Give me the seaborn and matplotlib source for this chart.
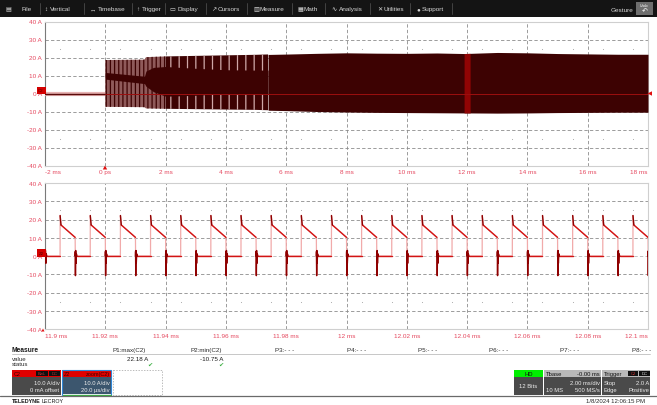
import numpy as np
import pandas as pd
import matplotlib
matplotlib.use("Agg")
import matplotlib.pyplot as plt
from matplotlib.patches import Rectangle, Polygon
import seaborn as sns

W, H = 657, 406

# ---------------- C2: full record, 2 ms/div, trigger at 0 ----------------
top_ticks_ms = [-2, 0, 2, 4, 6, 8, 10, 12, 14, 16, 18]
top_tick_labels = ["-2 ms", "0 ps", "2 ms", "4 ms", "6 ms", "8 ms",
                   "10 ms", "12 ms", "14 ms", "16 ms", "18 ms"]
amp_ticks_a = [40, 30, 20, 10, 0, -10, -20, -30, -40]
amp_tick_labels = ["40 A", "30 A", "20 A", "10 A", "0 A",
                   "-10 A", "-20 A", "-30 A", "-40 A"]

pre_t_ms = [-2.0, 0.0]
pre_i_a = [0.0, 0.0]

# switching envelope of the current after the trigger
env_t_ms = [0.0, 1.3, 1.35, 2.0, 3.0, 4.0, 5.0, 5.4, 6.0, 7.0, 8.0, 9.0,
            10.0, 11.0, 11.9, 12.1, 13.0, 14.0, 15.0, 16.0, 17.0, 18.0]
env_hi_a = [18.6, 18.8, 20.2, 20.6, 20.9, 21.2, 21.5, 21.7, 21.9, 22.3, 22.6,
            22.4, 22.3, 22.5, 22.2, 22.3, 22.8, 22.6, 22.2, 22.0, 21.8, 21.8]
env_lo_a = [-7.4, -7.6, -8.3, -8.5, -8.7, -8.9, -9.1, -9.3, -9.5, -10.0, -10.3,
            -10.5, -10.6, -10.7, -10.8, -10.8, -10.9, -10.8, -10.6, -10.5, -10.4, -10.4]

# dense core of the trace during start-up
core_t_ms = [0.0, 1.3, 1.35, 1.6, 2.0, 3.0, 4.0, 5.0, 5.4]
core_hi_a = [11.7, 9.6, 12.5, 14.5, 15.0, 14.0, 13.2, 13.0, 13.0]
core_lo_a = [8.0, 5.5, 4.0, 1.0, -1.5, -1.0, 0.0, 0.0, 0.0]

zoom_span_ms = [11.9, 12.1]

# ---------------- Z2: zoom of C2, 20 us/div ----------------
bot_ticks_ms = [11.90, 11.92, 11.94, 11.96, 11.98, 12.00,
                12.02, 12.04, 12.06, 12.08, 12.10]
bot_tick_labels = ["11.9 ms", "11.92 ms", "11.94 ms", "11.96 ms", "11.98 ms",
                   "12 ms", "12.02 ms", "12.04 ms", "12.06 ms", "12.08 ms", "12.1 ms"]

fall_ms = [11.900, 11.910, 11.920, 11.930, 11.940, 11.950, 11.960, 11.970,
           11.980, 11.990, 12.000, 12.010, 12.020, 12.030, 12.040, 12.050,
           12.060, 12.070, 12.080, 12.090, 12.100]
rise_ms = [11.905, 11.915, 11.925, 11.935, 11.945, 11.955, 11.965, 11.975,
           11.985, 11.995, 12.005, 12.015, 12.025, 12.035, 12.045, 12.055,
           12.065, 12.075, 12.085, 12.095]
peak_a = 22.18      # P1 max(C2)
trough_a = -10.75   # P2 min(C2)
ramp_top_a = 17.0
ramp_end_a = 10.2
ring_dt_us = [0.04, 0.10, 0.18, 0.28, 0.40, 0.60]
ring_i_a = [2.5, trough_a, 3.0, -4.0, 1.2, 0.0]

# ---------------- style ----------------
sns.set_theme(style="white")
plt.rcParams["font.family"] = ["Liberation Sans", "DejaVu Sans"]
plt.rcParams["hatch.linewidth"] = 0.9
plt.rcParams["lines.scale_dashes"] = False

TICK_RED = "#e5485f"
DARK = "#3d0202"
GRID = "#8c8c8c"
DASH = (0, (2.4, 1.6))

fig = plt.figure(figsize=(W / 100, H / 100), dpi=100)
fig.patch.set_facecolor("white")


def add_panel(left, top, right, bottom):
    return fig.add_axes([left / W, 1 - bottom / H, (right - left) / W, (bottom - top) / H])


def style_panel(ax, xticks, xlabels, xlim):
    ax.set_facecolor("white")
    ax.set_xlim(*xlim)
    ax.set_ylim(-40, 40)
    ax.set_xticks(xticks)
    ax.set_xticklabels(xlabels)
    ax.set_yticks(amp_ticks_a)
    ax.set_yticklabels(amp_tick_labels)
    ax.tick_params(axis="both", length=0, labelsize=4.6, labelcolor=TICK_RED)
    ax.tick_params(axis="y", pad=2.2)
    ax.tick_params(axis="x", pad=2.6)
    labs = ax.get_xticklabels()
    labs[0].set_ha("left")
    labs[-1].set_ha("right")
    ax.set_xlabel("")
    ax.set_ylabel("")
    for side, sp in ax.spines.items():
        sp.set_visible(True)
        sp.set_linewidth(0.8)
        sp.set_color("#7a7a7a" if side == "left" else "#cfcfcf")
    # graticule
    for x in xticks[1:-1]:
        ax.axvline(x, color=GRID, lw=0.6, ls=DASH, zorder=1)
    for y in [30, 20, 10, 0, -10, -20, -30]:
        ax.axhline(y, color=GRID if y != 0 else "#b5b5b5", lw=0.6, ls=DASH, zorder=1)
    div = xticks[1] - xticks[0]
    dots_x = np.arange(xticks[0] + 0.25 * div, xticks[-1], 0.5 * div)
    for y in [25, -25, 0]:
        ax.scatter(dots_x, np.full(len(dots_x), y), s=0.6, color="#a8a8a8",
                   linewidths=0, zorder=1)


# ---------------- top panel ----------------
ax1 = add_panel(45, 22.5, 648, 166.5)
style_panel(ax1, top_ticks_ms, top_tick_labels, (-2, 18))

sns.lineplot(x=pre_t_ms, y=pre_i_a, ax=ax1, color="#e6b3b3", lw=3.0, zorder=3)
sns.lineplot(x=pre_t_ms, y=pre_i_a, ax=ax1, color="#5a0a0a", lw=1.0, zorder=4)

t = np.array(env_t_ms)
hi = np.array(env_hi_a)
lo = np.array(env_lo_a)
# start-up burst: individual switching cycles still resolved
ax1.fill_between(t, lo, hi, where=t <= 2.0, facecolor="#8f5a5a", edgecolor=DARK,
                 hatch="||||", linewidth=0, zorder=3)
ax1.fill_between(t, lo, hi, where=(t >= 2.0) & (t <= 5.4), facecolor=DARK,
                 edgecolor="#cfa8a8", hatch="||", linewidth=0, zorder=3)
ax1.fill_between(t, lo, hi, where=t >= 5.4, color=DARK, linewidth=0, zorder=3)
ax1.fill_between(core_t_ms, core_lo_a, core_hi_a, color=DARK, linewidth=0, zorder=4)
zmask = (t >= zoom_span_ms[0]) & (t <= zoom_span_ms[1])
ax1.fill_between(t, lo, hi, where=zmask, color="#900404", linewidth=0, zorder=5)
ax1.plot([0, 18], [0, 0], color="#9c0f0f", lw=0.7, zorder=6)

# ---------------- bottom panel ----------------
ax2 = add_panel(45, 184, 648, 330)
style_panel(ax2, bot_ticks_ms, bot_tick_labels, (11.9, 12.1))

us = 1e-3
full_t, full_i = [], []
slow_rows, dark_rows = [], []
seg = 0
for k, f in enumerate(fall_ms):
    start = 2 if k == 0 else 0
    if k > 0:
        full_t.append(f)
        full_i.append(ramp_end_a)
    ring_t = [f + d * us for d in ring_dt_us[start:]]
    ring_v = ring_i_a[start:]
    full_t += ring_t
    full_i += ring_v
    pts_t = ([f] if k > 0 else []) + ring_t
    pts_v = ([0.0] if k > 0 else []) + ring_v
    dark_rows += [(seg, a, b) for a, b in zip(pts_t, pts_v)]
    seg += 1
    if k < len(rise_ms):
        r = rise_ms[k]
        slow_rows += [(seg, ring_t[-1], 0.0), (seg, r, 0.0)]
        seg += 1
        full_t += [r, r + 0.02 * us, r + 0.3 * us]
        full_i += [0.0, peak_a, ramp_top_a]
        dark_rows += [(seg, r + 0.02 * us, peak_a), (seg, r + 0.3 * us, ramp_top_a)]
        seg += 1
        slow_rows += [(seg, r + 0.3 * us, ramp_top_a), (seg, fall_ms[k + 1], ramp_end_a)]
        seg += 1

full_df = pd.DataFrame({"t": full_t, "i": full_i})
slow_df = pd.DataFrame(slow_rows, columns=["seg", "t", "i"])
dark_df = pd.DataFrame(dark_rows, columns=["seg", "t", "i"])

sns.lineplot(data=full_df, x="t", y="i", ax=ax2, sort=False, estimator=None,
             color="#f1aaaa", lw=0.9, zorder=3)
sns.lineplot(data=slow_df, x="t", y="i", units="seg", estimator=None, sort=False,
             ax=ax2, color="#d21414", lw=1.0, zorder=4, legend=False)
sns.lineplot(data=dark_df, x="t", y="i", units="seg", estimator=None, sort=False,
             ax=ax2, color="#8e0000", lw=1.0, zorder=5, legend=False)
for a in (ax1, ax2):
    a.set_xlabel("")
    a.set_ylabel("")

# ---------------- instrument frame (pixel coordinates) ----------------
ui = fig.add_axes([0, 0, 1, 1])
ui.set_xlim(0, W)
ui.set_ylim(H, 0)
ui.axis("off")


def box(x0, y0, x1, y1, **kw):
    ui.add_patch(Rectangle((x0, y0), x1 - x0, y1 - y0, **kw))


def txt(x, y, s, **kw):
    kw.setdefault("fontsize", 4.5)
    kw.setdefault("va", "center")
    return ui.text(x, y, s, **kw)


# menu bar
box(0, 0, W, 18, facecolor="#141414", edgecolor="none")
MENU = "#d6d6d6"
menu_items = [(5, "▤", 22, "File"), (44, "↕", 50, "Vertical"), (90, "↔", 98, "Timebase"),
              (136, "↑", 142, "Trigger"), (169, "▭", 177, "Display"),
              (211, "↗", 218, "Cursors"), (253, "▥", 260, "Measure"),
              (297, "▦", 303, "Math"), (331, "∿", 339, "Analysis"),
              (377, "✕", 384, "Utilities"), (416, "●", 422, "Support")]
for ix, icon, tx, label in menu_items:
    txt(ix, 9.5, icon, color=MENU, fontsize=4.5)
    txt(tx, 9.5, label, color=MENU, fontsize=4.6)
for sx in [40, 84, 132, 165, 206, 247, 292, 325, 370, 410, 452]:
    ui.plot([sx, sx], [4, 15], color="#4a4a4a", lw=0.6)
txt(633, 10, "Gesture", color=MENU, fontsize=4.6, ha="right")
box(636, 2.5, 653, 16, facecolor="#6e6e6e", edgecolor="none")
txt(644.5, 6, "Undo", color="white", fontsize=2.6, ha="center")
txt(644.5, 11.5, "↶", color="white", fontsize=5, ha="center")

# channel badges and level / trigger markers
box(36.5, 87.5, 45.5, 95, facecolor="#d40000", edgecolor="none", zorder=5)
txt(41, 91.3, "C2", color="#5a0000", fontsize=3.2, ha="center", zorder=6)
box(37, 250, 45.5, 257.5, facecolor="#d40000", edgecolor="none", zorder=5)
txt(41.2, 253.8, "Z2", color="#5a0000", fontsize=3.2, ha="center", zorder=6)
ui.add_patch(Polygon([(647.5, 94.5), (652, 92.3), (652, 96.7)], closed=True,
                     facecolor="#e01010", edgecolor="none"))
ui.add_patch(Polygon([(105, 166.5), (102.8, 170.5), (107.2, 170.5)], closed=True,
                     facecolor="#e01010", edgecolor="none"))
ui.add_patch(Polygon([(43, 329.5), (41.5, 332.5), (44.5, 332.5)], closed=True,
                     facecolor="#e01010", edgecolor="none"))

# measurement table
txt(12, 350.5, "Measure", color="#1a1a1a", fontsize=4.8, fontweight="bold")
ui.plot([12, 650], [354.5, 354.5], color="#b0b0b0", lw=0.5)
txt(12, 359.2, "value", color="#2a2a2a", fontsize=4.4)
txt(12, 365, "status", color="#2a2a2a", fontsize=4.4)
p_labels = ["P1:max(C2)", "P2:min(C2)", "P3:- - -", "P4:- - -",
            "P5:- - -", "P6:- - -", "P7:- - -", "P8:- - -"]
p_right = [146, 222, 294, 366, 437, 508, 579, 651]
for lab, xr in zip(p_labels, p_right):
    txt(xr, 350.5, lab, color="#2a2a2a", fontsize=4.5, ha="right")
txt(148, 359.2, f"{peak_a:.2f} A", color="#1a1a1a", fontsize=4.5, ha="right")
txt(223, 359.2, f"{trough_a:.2f} A", color="#1a1a1a", fontsize=4.5, ha="right")
txt(149.5, 365.5, "✔", color="#3cb043", fontsize=4.5, ha="center")
txt(221, 365.5, "✔", color="#3cb043", fontsize=4.5, ha="center")

# channel descriptor boxes
LIGHT = "#ececec"
box(12, 371, 61, 377.5, facecolor="#e00000", edgecolor="none")
box(12, 377.5, 61, 396, facecolor="#4a4a4a", edgecolor="none")
txt(14, 374.3, "C2", color="#3a0000", fontsize=4)
box(36, 372, 47.5, 377, facecolor="#111111", edgecolor="none")
box(48.5, 372, 60, 377, facecolor="#111111", edgecolor="none")
txt(41.7, 374.5, "BwL", color="#c03030", fontsize=3, ha="center")
txt(54.2, 374.5, "DC", color="#c03030", fontsize=3, ha="center")
txt(59.5, 383.5, "10.0 A/div", color=LIGHT, fontsize=4.2, ha="right")
txt(59.5, 390.5, "0 mA offset", color=LIGHT, fontsize=4.2, ha="right")

box(62, 371, 111, 377.5, facecolor="#e00000", edgecolor="none")
box(62, 377.5, 111, 395, facecolor="#3c566e", edgecolor="none")
box(62, 371, 111, 396, facecolor="none", edgecolor="#2f86d6", lw=0.8)
ui.plot([62.5, 110.5], [395.7, 395.7], color="#3cb043", lw=0.9)
txt(64, 374.3, "Z2", color="#3a0000", fontsize=4)
txt(109.5, 374.3, "zoom(C2)", color="#3a0000", fontsize=4, ha="right")
txt(109.5, 383.5, "10.0 A/div", color=LIGHT, fontsize=4.2, ha="right")
txt(109.5, 390.5, "20.0 µs/div", color=LIGHT, fontsize=4.2, ha="right")

box(112.5, 371, 162, 396, facecolor="none", edgecolor="#a0a0a0", lw=0.5, ls=(0, (1, 1)))

# acquisition status boxes
box(514, 371, 543, 377.5, facecolor="#00ee00", edgecolor="none")
box(514, 377.5, 543, 396, facecolor="#4a4a4a", edgecolor="none")
txt(528.5, 374.3, "HD", color="#111111", fontsize=4.2, ha="center")
txt(528.5, 386.5, "12 Bits", color=LIGHT, fontsize=4.2, ha="center")

box(544, 371, 601, 377.5, facecolor="#b9b9b9", edgecolor="none")
box(544, 377.5, 601, 396, facecolor="#4a4a4a", edgecolor="none")
txt(546, 374.3, "Tbase", color="#111111", fontsize=4.2)
txt(599.5, 374.3, "-0.00 ms", color="#111111", fontsize=4.2, ha="right")
txt(599.5, 383.5, "2.00 ms/div", color=LIGHT, fontsize=4.2, ha="right")
txt(546, 390.5, "10 MS", color=LIGHT, fontsize=4.2)
txt(599.5, 390.5, "500 MS/s", color=LIGHT, fontsize=4.2, ha="right")

box(602, 371, 650, 377.5, facecolor="#b9b9b9", edgecolor="none")
box(602, 377.5, 650, 396, facecolor="#4a4a4a", edgecolor="none")
txt(604, 374.3, "Trigger", color="#111111", fontsize=4.2)
box(628, 372, 638, 377, facecolor="#111111", edgecolor="none")
box(639, 372, 649.5, 377, facecolor="#111111", edgecolor="none")
txt(633, 374.5, "C2", color="#d03030", fontsize=3, ha="center")
txt(644.2, 374.5, "DC", color="#e0e0e0", fontsize=3, ha="center")
txt(604, 383.5, "Stop", color=LIGHT, fontsize=4.2)
txt(649, 383.5, "2.0 A", color=LIGHT, fontsize=4.2, ha="right")
txt(604, 390.5, "Edge", color=LIGHT, fontsize=4.2)
txt(649, 390.5, "Positive", color=LIGHT, fontsize=4.2, ha="right")

# footer: brand name set as bold + regular words
ui.plot([0, W], [397.3, 397.3], color="#6a6a6a", lw=0.9)
brand = txt(12, 402, "TELEDYNE", color="#1a1a1a", fontsize=3.9, fontweight="bold")
renderer = fig.canvas.get_renderer()
bb = brand.get_window_extent(renderer=renderer)
brand_end = bb.x1 * W / fig.bbox.width + 1.2
txt(brand_end, 402, "LECROY", color="#1a1a1a", fontsize=3.9)
txt(645, 402, "1/8/2024 12:06:15 PM", color="#2a2a2a", fontsize=4.3, ha="right")

fig.savefig("out.png", dpi=100, facecolor="white")
